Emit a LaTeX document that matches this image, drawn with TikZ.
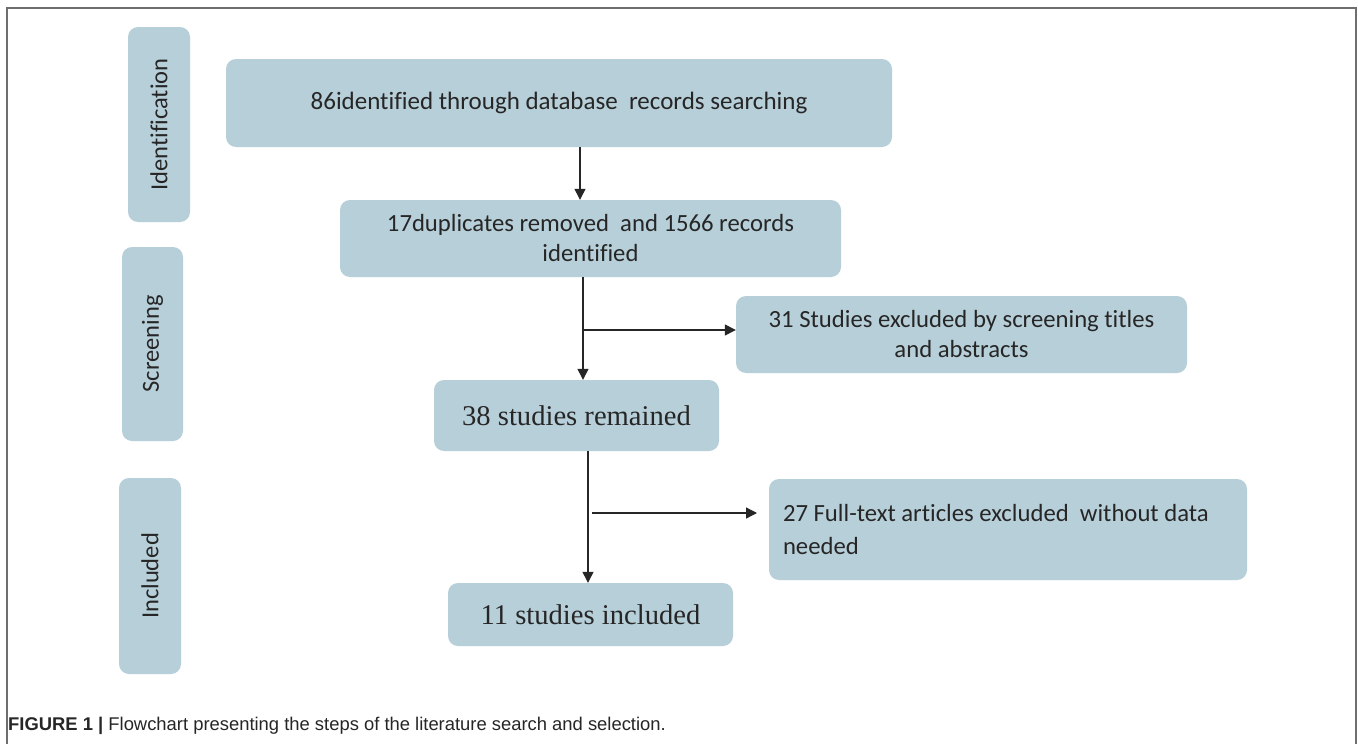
\documentclass[tikz,border=0pt]{standalone}
\usepackage{fontspec}
\setmainfont{Carlito}[Ligatures={NoCommon}]
\newfontfamily\serifb{Liberation Serif}
\newfontfamily\capfont{Liberation Sans}
\usetikzlibrary{arrows.meta}
\definecolor{boxblue}{HTML}{B7CFD9}
\definecolor{framegray}{HTML}{6E6E6E}
\definecolor{ink}{HTML}{262626}
\tikzset{
  box/.style={fill=boxblue, rounded corners=10pt, inner sep=0pt, align=center, text=ink},
  stage/.style={rotate=90, font=\fontsize{24.5}{28}\selectfont, text=ink},
  arr/.style={-{Triangle[length=11pt,width=11pt]}, line width=1.3pt, ink},
}
\begin{document}
\begin{tikzpicture}[x=1pt,y=-1pt]
\useasboundingbox (0,0) rectangle (1358,744);
\fill[white] (0,0) rectangle (1358,744);
\draw[framegray, line width=1.5pt] (7,750) -- (7,8) -- (1356,8) -- (1356,750);
% stage labels
\node[box, minimum width=62pt, minimum height=195pt] (ident) at (159,124.5) {};
\node[stage] (identt) at (ident.center) {Identification};
\node[box, minimum width=61pt, minimum height=194pt] (screen) at (152.5,344) {};
\node[stage] (screent) at (screen.center) {Screening};
\node[box, minimum width=62pt, minimum height=196pt] (incl) at (150,576) {};
\node[stage] (inclt) at (incl.center) {Included};
% flow boxes
\node[box, minimum width=666pt, minimum height=88pt, font=\fontsize{25}{30}\selectfont] (b1) at (559,103) {86identified through database\ \ records searching};
\node[box, minimum width=501pt, minimum height=77pt, font=\fontsize{24.7}{30}\selectfont] (b2) at (590.5,238.5) {17duplicates removed\ \ and 1566 records\\identified};
\node[box, minimum width=451pt, minimum height=77pt, font=\fontsize{24.7}{30}\selectfont] (b3) at (961.5,334.5) {31 Studies excluded by screening titles\\and abstracts};
\node[box, minimum width=285pt, minimum height=71pt, font=\serifb\fontsize{28.6}{32}\selectfont] (b4) at (576.5,415.5) {38 studies remained};
\node[box, minimum width=478pt, minimum height=101pt] (b5) at (1008,529.5) {};
\node[anchor=west, inner sep=0pt, align=left, text=ink, font=\fontsize{24.7}{33}\selectfont] (b5t) at ([xshift=14pt]b5.west) {27 Full-text articles excluded\ \ without data\\needed};
\node[box, minimum width=285pt, minimum height=63pt, font=\serifb\fontsize{28.6}{32}\selectfont] (b6) at (590.5,614.5) {11 studies included};
% helper coordinates
\coordinate (x1) at (580,0);
\coordinate (x2) at (583,330);
\coordinate (x3) at (588,0);
\coordinate (j3) at (592,513);
\coordinate (e3) at (757,513);
% connectors
\draw[arr] (b1.south -| x1) -- (b2.north -| x1);
\draw[arr] (b2.south -| x2) -- (b4.north -| x2);
\draw[arr] (x2) -- (b3.west |- x2);
\draw[arr] (b4.south -| x3) -- (b6.north -| x3);
\draw[arr] (j3) -- (e3);
% caption
\node[anchor=base west, inner sep=0pt, font=\capfont\fontsize{18.4}{20}\selectfont, text=ink] (cap) at (8,730) {\textbf{FIGURE 1 |} Flowchart presenting the steps of the literature search and selection.};
\end{tikzpicture}
\end{document}
